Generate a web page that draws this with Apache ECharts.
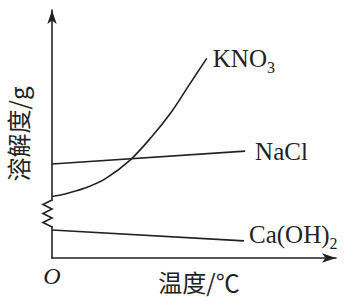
<!DOCTYPE html>
<html>
<head>
<meta charset="utf-8">
<script src="https://cdn.jsdelivr.net/npm/echarts@6/dist/echarts.min.js"></script>
<style>html,body{margin:0;padding:0;background:#fff}#c{width:347px;height:300px}</style>
</head>
<body>
<div id="c"></div>
<script>
// data (temperature 0-100 arbitrary scale, solubility arbitrary scale)
const kno3 = [[0,24.8],[4.6,25.8],[11.6,28.2],[18.7,31.9],[27.5,39.5],[35.1,48.9],[42.1,59.0],[47.9,69.1],[54.5,80.5]];
const nacl = [[0,37.9],[68.0,43.1]];
const caoh2 = [[0,11.3],[67.6,6.9]];
const seriesNames = ['KNO3','NaCl','Ca(OH)2'];
const seriesLabels = ['{n|KNO}{s|3}','{n|NaCl}','{n|Ca(OH)}{s|2}'];
const xAxisName = '温度/℃';
const yAxisName = '溶解度/g';
const originLabel = 'O';
const breakRange = [12.5, 23.4];

const INK = '#222';
const chart = echarts.init(document.getElementById('c'), null, {renderer:'svg'});
const rich = {
  n:{fontFamily:'Liberation Serif', fontSize:25, color:INK, lineHeight:34},
  s:{fontFamily:'Liberation Serif', fontSize:16, color:INK, lineHeight:16, verticalAlign:'bottom'}
};
function mk(i, data, dist, off){
  return {
    name: seriesNames[i], type:'line', data:data, symbol:'none', smooth: i===0 ? 0.35 : false,
    lineStyle:{color:INK, width:1.6}, z:5,
    endLabel:{show:true, formatter:seriesLabels[i], distance:dist, offset:off, rich:rich}
  };
}
chart.setOption({
  animation:false,
  grid:{left:52, right:11, top:10, bottom:42, containLabel:false, outerBoundsMode:'none'},
  xAxis:{type:'value', min:0, max:100, interval:100,
    axisLine:{show:true, lineStyle:{color:INK, width:1.6}, symbol:['none','arrow'], symbolSize:[7,14]},
    axisTick:{show:false}, splitLine:{show:false},
    axisLabel:{show:true, margin:6, formatter:v=>v===0?originLabel:'', fontFamily:'Liberation Serif', fontStyle:'italic', fontSize:24, color:INK},
    name:xAxisName, nameLocation:'middle', nameGap:11, nameMoveOverlap:false,
    nameTextStyle:{fontFamily:'Noto Sans CJK SC', fontSize:24, lineHeight:24, color:INK, padding:[0,0,0,10]}
  },
  yAxis:{type:'value', min:0, max:100,
    axisLine:{show:true, lineStyle:{color:INK, width:1.6}, symbol:['none','arrow'], symbolSize:[7,14]},
    axisTick:{show:false}, splitLine:{show:false}, axisLabel:{show:false},
    name:yAxisName, nameLocation:'middle', nameGap:22, nameRotate:90, nameMoveOverlap:false,
    nameTextStyle:{fontFamily:'Noto Sans CJK SC', fontSize:24, lineHeight:26, color:INK}
  },
  series:[mk(0,kno3,6,[0,0]), mk(1,nacl,10,[0,0]), mk(2,caoh2,5,[0,-6])]
});
// axis break mark (zigzag) on y axis
const ax = chart.convertToPixel({xAxisIndex:0}, 0);
const yTop = chart.convertToPixel({yAxisIndex:0}, breakRange[1]);
const yBot = chart.convertToPixel({yAxisIndex:0}, breakRange[0]);
const h = yBot - yTop, w = 9, n = 3;
const pts = [[ax, yTop]];
for (let i = 0; i < n; i++) {
  pts.push([ax - w, yTop + h * (2*i+1) / (2*n)]);
  if (i < n-1) pts.push([ax, yTop + h * (2*i+2) / (2*n)]);
}
pts.push([ax, yBot]);
chart.setOption({graphic:[
  {type:'rect', z:100, shape:{x:ax-3, y:yTop+1, width:6, height:h-2}, style:{fill:'#fff'}},
  {type:'polyline', z:101, shape:{points:pts}, style:{stroke:INK, lineWidth:1.6, fill:null}}
]});
</script>
</body>
</html>
